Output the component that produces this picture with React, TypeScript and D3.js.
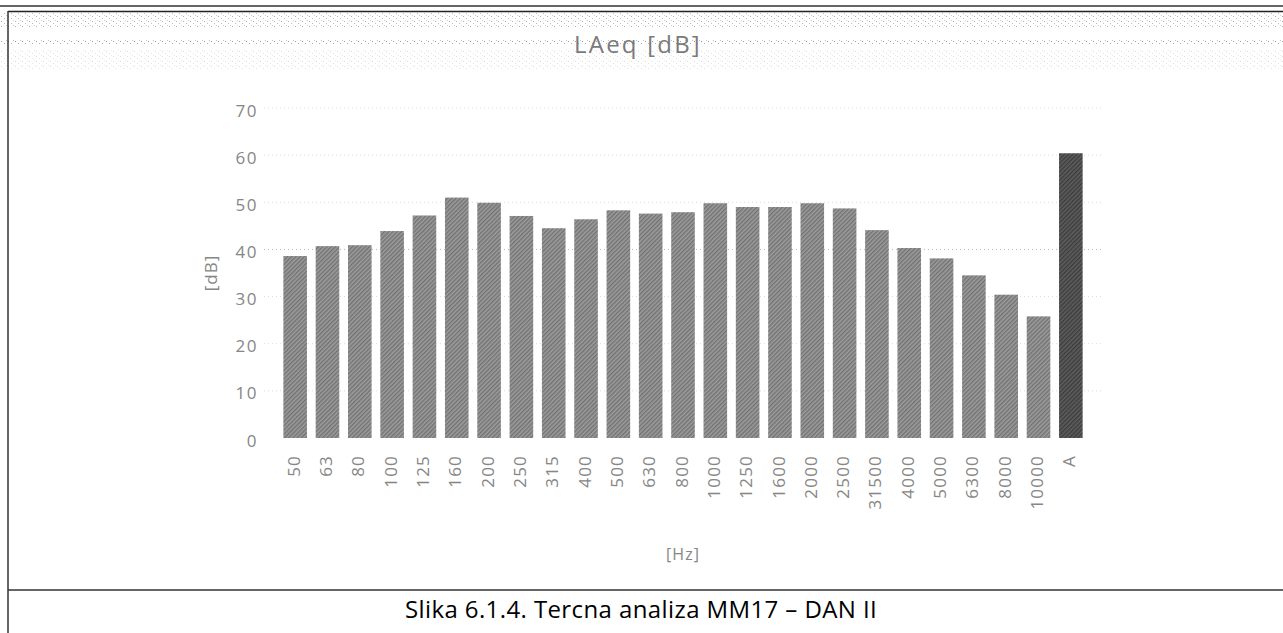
import * as d3 from "d3";

// third-octave bands (Hz) + total A level
const categories = [
  "50", "63", "80", "100", "125", "160", "200", "250", "315", "400", "500", "630", "800",
  "1000", "1250", "1600", "2000", "2500", "31500", "4000", "5000", "6300", "8000", "10000", "A",
];
const levels = [
  38.6, 40.7, 40.9, 43.9, 47.2, 51.0, 49.9, 47.1, 44.5, 46.4, 48.3, 47.6, 47.9,
  49.8, 49.0, 49.0, 49.8, 48.7, 44.1, 40.3, 38.1, 34.5, 30.4, 25.8, 60.4,
];
const yTicks = [0, 10, 20, 30, 40, 50, 60, 70];

const width = 1283;
const height = 633;
const plot = { left: 279, right: 1087, top: 108, bottom: 438 };

const labelColor = "#868686";
const font = "'Open Sans', 'DejaVu Sans', sans-serif";

export default function App() {
  const x = d3
    .scaleBand<string>()
    .domain(categories)
    .range([plot.left, plot.right])
    .paddingInner(0.27)
    .paddingOuter(0.135);

  const y = d3.scaleLinear().domain([0, 70]).range([plot.bottom, plot.top]);

  const data = categories.map((c, i) => ({ cat: c, value: levels[i] }));
  const midX = (plot.left + plot.right) / 2;
  const midY = (plot.top + plot.bottom) / 2;

  return (
    <div style={{ position: "fixed", left: 0, top: 0 }}>
      <svg width={width} height={height} style={{ display: "block", background: "#fff" }}>
        <defs>
          <pattern id="scan" width="3" height="3" patternUnits="userSpaceOnUse" patternTransform="rotate(45)">
            <rect width="3" height="3" fill="#9c9c9c" />
            <rect width="1.4" height="3" fill="#727272" />
          </pattern>
          <pattern id="scanDark" width="3" height="3" patternUnits="userSpaceOnUse" patternTransform="rotate(45)">
            <rect width="3" height="3" fill="#5e5e5e" />
            <rect width="1.4" height="3" fill="#3c3c3c" />
          </pattern>
          <pattern id="speckle" width="7" height="5" patternUnits="userSpaceOnUse">
            <rect x="1" y="1" width="1" height="1" fill="#9a9a9a" />
            <rect x="4" y="3" width="1" height="1" fill="#b0b0b0" />
            <rect x="6" y="0" width="1" height="1" fill="#c4c4c4" />
          </pattern>
        </defs>

        {/* scanner noise bands near the top */}
        <rect x={0} y={13} width={width} height={14} fill="url(#speckle)" opacity={0.8} />
        <rect x={0} y={40} width={width} height={5} fill="url(#speckle)" />
        <rect x={0} y={50} width={width} height={20} fill="url(#speckle)" opacity={0.35} />

        {/* table frame */}
        <line x1={0} x2={width} y1={6} y2={6} stroke="#333" strokeWidth={1.5} />
        <line x1={8} x2={width} y1={11.5} y2={11.5} stroke="#222" strokeWidth={1.5} />
        <line x1={8} x2={8} y1={11} y2={height} stroke="#333" strokeWidth={1.5} />
        <line x1={8} x2={width} y1={590} y2={590} stroke="#333" strokeWidth={1.5} />

        {/* faint gridlines (barely survived the scan) */}
        {yTicks.slice(1).map((t) => (
          <line key={`g${t}`} x1={plot.left - 15} x2={plot.right + 15} y1={y(t)} y2={y(t)}
            stroke={t === 40 ? "#b8b8b8" : "#dadada"} strokeWidth={1} strokeDasharray="1 3" />
        ))}

        {/* title */}
        <text x={midX - 45} y={47} textAnchor="middle" dominantBaseline="middle"
          fontFamily={font} fontSize={24} fill="#7a7a7a" letterSpacing={2.2}>
          LAeq [dB]
        </text>

        {/* y ticks */}
        {yTicks.map((t) => (
          <text key={t} x={258} y={y(t) + 4} textAnchor="end" dominantBaseline="middle"
            fontFamily={font} fontSize={17} fill={labelColor} letterSpacing={1.5}>
            {t}
          </text>
        ))}
        <text transform={`translate(212, ${midY}) rotate(-90)`} textAnchor="middle"
          dominantBaseline="middle" fontFamily={font} fontSize={17} fill={labelColor} letterSpacing={1}>
          [dB]
        </text>

        {/* bars */}
        {data.map((d) => (
          <rect key={d.cat} x={x(d.cat)} y={y(d.value)} width={x.bandwidth()}
            height={y(0) - y(d.value)} fill={d.cat === "A" ? "url(#scanDark)" : "url(#scan)"} />
        ))}

        {/* x labels */}
        {categories.map((c) => (
          <text key={c}
            transform={`translate(${(x(c) ?? 0) + x.bandwidth() / 2}, 455) rotate(-90)`}
            textAnchor="end" dominantBaseline="middle" fontFamily={font} fontSize={17}
            fill={labelColor} letterSpacing={1.2}>
            {c}
          </text>
        ))}
        <text x={midX} y={556} textAnchor="middle" dominantBaseline="middle"
          fontFamily={font} fontSize={16} fill={labelColor} letterSpacing={1}>
          [Hz]
        </text>

        {/* caption */}
        <text x={641} y={612} textAnchor="middle" dominantBaseline="middle"
          fontFamily={font} fontSize={24} fill="#000" letterSpacing={0.4}>
          Slika 6.1.4. Tercna analiza MM17 – DAN II
        </text>
      </svg>
    </div>
  );
}
